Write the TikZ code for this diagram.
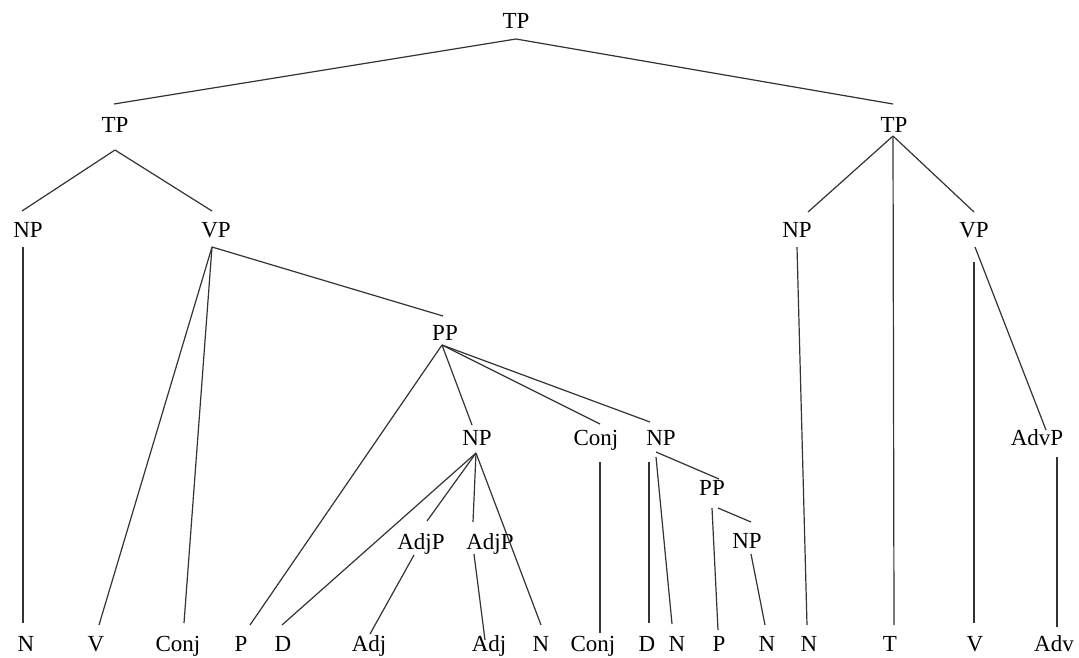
\documentclass[tikz,border=0pt]{standalone}
\usepackage{fontspec}
\setmainfont{Liberation Serif}
\usetikzlibrary{calc}
\begin{document}
\begin{tikzpicture}[x=1pt,y=-1pt,
  lab/.style={inner sep=0pt, anchor=base, font=\fontsize{23}{27}\selectfont, text=black},
  br/.style={line width=1.2pt, draw=black!80}]
\fill[white] (0,0) rectangle (1079,657);
\useasboundingbox (0,0) rectangle (1079,657);
% labels
\node[lab] (t0) at (516,28.5) {TP};
\node[lab] (t1) at (115,132) {TP};
\node[lab] (t2) at (894,132) {TP};
\node[lab] (np1) at (28,237) {NP};
\node[lab] (vp1) at (216,237) {VP};
\node[lab] (np2) at (797,237) {NP};
\node[lab] (vp2) at (974,237) {VP};
\node[lab] (pp1) at (445,340) {PP};
\node[lab] (np3) at (477,445) {NP};
\node[lab] (conj1) at (596,445) {Conj};
\node[lab] (np4) at (661,445) {NP};
\node[lab] (advp) at (1037,445) {AdvP};
\node[lab] (pp2) at (712,495) {PP};
\node[lab] (adjp1) at (421,549) {AdjP};
\node[lab] (adjp2) at (490,549) {AdjP};
\node[lab] (np5) at (747,548) {NP};
\node[lab] (n1) at (26,651) {N};
\node[lab] (v1) at (96,651) {V};
\node[lab] (conj0) at (178,651) {Conj};
\node[lab] (p1) at (241,651) {P};
\node[lab] (d1) at (283,651) {D};
\node[lab] (adj1) at (369,651) {Adj};
\node[lab] (adj2) at (489,651) {Adj};
\node[lab] (n2) at (541,651) {N};
\node[lab] (conj2) at (593,651) {Conj};
\node[lab] (d2) at (647,651) {D};
\node[lab] (n3) at (677,651) {N};
\node[lab] (p2) at (719,651) {P};
\node[lab] (n4) at (767,651) {N};
\node[lab] (n5) at (809,651) {N};
\node[lab] (t) at (890,651) {T};
\node[lab] (v2) at (975,651) {V};
\node[lab] (adv) at (1054,651) {Adv};
% connectors
\draw[br] ($(t0.base)+(0,10.5)$) -- ($(t1.base)+(-1,-28)$);
\draw[br] ($(t0.base)+(0,10.5)$) -- ($(t2.base)+(-1,-28)$);
\draw[br] ($(t1.base)+(0,18)$) -- ($(np1.base)+(-6,-26)$);
\draw[br] ($(t1.base)+(0,18)$) -- ($(vp1.base)+(-4,-26)$);
\draw[br] ($(np1.base)+(-5,10)$) -- ($(n1.base)+(-3,-28)$);
\draw[br] ($(vp1.base)+(-4,10)$) -- ($(v1.base)+(3,-26)$);
\draw[br] ($(vp1.base)+(-4,10)$) -- ($(conj0.base)+(6,-28)$);
\draw[br] ($(vp1.base)+(-4,10)$) -- ($(pp1.base)+(-2,-24)$);
\draw[br] ($(pp1.base)+(-3,5)$) -- ($(p1.base)+(9,-26)$);
\draw[br] ($(pp1.base)+(-3,5)$) -- ($(np3.base)+(-5,-20)$);
\draw[br] ($(pp1.base)+(-3,5)$) -- ($(conj1.base)+(4,-21)$);
\draw[br] ($(pp1.base)+(-3,5)$) -- ($(np4.base)+(-11,-23)$);
\draw[br] ($(np3.base)+(-1,8)$) -- ($(d1.base)+(-1,-26)$);
\draw[br] ($(np3.base)+(-1,8)$) -- ($(adjp1.base)+(6,-28)$);
\draw[br] ($(np3.base)+(-1,8)$) -- ($(adjp2.base)+(-17,-27)$);
\draw[br] ($(np3.base)+(-1,8)$) -- ($(n2.base)+(0,-26)$);
\draw[br] ($(adjp1.base)+(-7,6)$) -- ($(adj1.base)+(1,-17)$);
\draw[br] ($(adjp2.base)+(-16,5)$) -- ($(adj2.base)+(-4,-11)$);
\draw[br] ($(conj1.base)+(4,17)$) -- ($(conj2.base)+(7,-18)$);
\draw[br] ($(np4.base)+(-12,17)$) -- ($(d2.base)+(2,-28)$);
\draw[br] ($(np4.base)+(-5,12)$) -- ($(n3.base)+(-5,-27)$);
\draw[br] ($(np4.base)+(-5,7)$) -- ($(pp2.base)+(7,-16)$);
\draw[br] ($(pp2.base)+(0,13)$) -- ($(p2.base)+(-1,-21)$);
\draw[br] ($(pp2.base)+(6,13)$) -- ($(np5.base)+(4,-26)$);
\draw[br] ($(np5.base)+(4,6)$) -- ($(n4.base)+(-2,-26)$);
\draw[br] ($(t2.base)+(-1,4)$) -- ($(np2.base)+(11,-25)$);
\draw[br] ($(t2.base)+(-1,4)$) -- ($(t.base)+(4,-26)$);
\draw[br] ($(t2.base)+(-1,4)$) -- ($(vp2.base)+(0,-25)$);
\draw[br] ($(np2.base)+(0,10)$) -- ($(n5.base)+(-2,-26)$);
\draw[br] ($(vp2.base)+(0,25)$) -- ($(v2.base)+(-1,-28)$);
\draw[br] ($(vp2.base)+(1,10)$) -- ($(advp.base)+(9,-15)$);
\draw[br] ($(advp.base)+(20,12)$) -- ($(adv.base)+(3,-24)$);
\end{tikzpicture}
\end{document}
